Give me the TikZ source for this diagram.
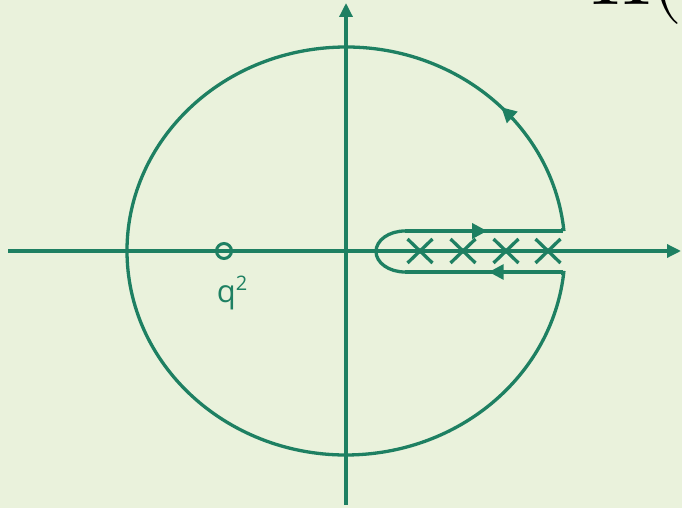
\documentclass[tikz,border=0pt]{standalone}
\usepackage{unicode-math}
\setmathfont{Latin Modern Math}
\newfontfamily\labfont{Open Sans}
\usetikzlibrary{arrows.meta,decorations.markings}
\definecolor{bg}{RGB}{234,242,220}
\definecolor{cg}{RGB}{30,128,98}
\tikzset{
  ln/.style={draw=cg, line width=3.3pt},
  axis/.style={ln, -{Triangle[length=14pt,width=13pt]}},
  arrowat/.style={postaction={decorate,decoration={markings,mark=at position #1 with {\arrow{Triangle[length=15pt,width=15pt]}}}}},
  crossmark/.style={ln}
}
\begin{document}
\begin{tikzpicture}[x=1pt,y=1pt]
\fill[bg] (0,0) rectangle (682,508);
\useasboundingbox (0,0) rectangle (682,508);
\begin{scope}
\clip (0,0) rectangle (682,508);
\node[anchor=base west, inner sep=0pt, font=\fontsize{80}{80}\selectfont] (pi) at (591,503) {$\Pi($};
\end{scope}
% axes
\coordinate (O) at (346,257);
\coordinate (xl) at (8,257);
\coordinate (xr) at (681,257);
\coordinate (yb) at (346,3);
\coordinate (yt) at (346,505);
\draw[axis] (xl) -- (xr);
\draw[axis] (yb) -- (yt);
% ellipse contour
\draw[ln, arrowat=0.11] (O) ++(5.6:219 and 204) arc[start angle=5.6, end angle=354.4, x radius=219, y radius=204];
% keyhole
\coordinate (tg) at (563,277);
\coordinate (tl) at (405,277);
\coordinate (bl) at (405,236);
\coordinate (bg) at (563,236);
\draw[ln, arrowat=0.52] (tl) -- (tg);
\draw[ln, arrowat=0.47] (bg) -- (bl);
\draw[ln] (tl) arc[start angle=90, end angle=270, x radius=29, y radius=20.5];
\draw[ln] (tg) -- (563,280);
\draw[ln] (bg) -- (563,233);
% crosses
\foreach \cx in {420,463,506,548}{
  \draw[crossmark] (\cx-12.5,245) -- (\cx+12.5,269);
  \draw[crossmark] (\cx-12.5,269) -- (\cx+12.5,245);
}
% q^2 point
\node[circle, draw=cg, line width=3pt, minimum size=15pt, inner sep=0pt] (q) at (224,257) {};
\node[anchor=base, text=cg, inner sep=0pt, font=\labfont\fontsize{31}{31}\selectfont] (ql) at (232,205) {q\raisebox{12pt}{\fontsize{20}{20}\selectfont 2}};
\end{tikzpicture}
\end{document}
